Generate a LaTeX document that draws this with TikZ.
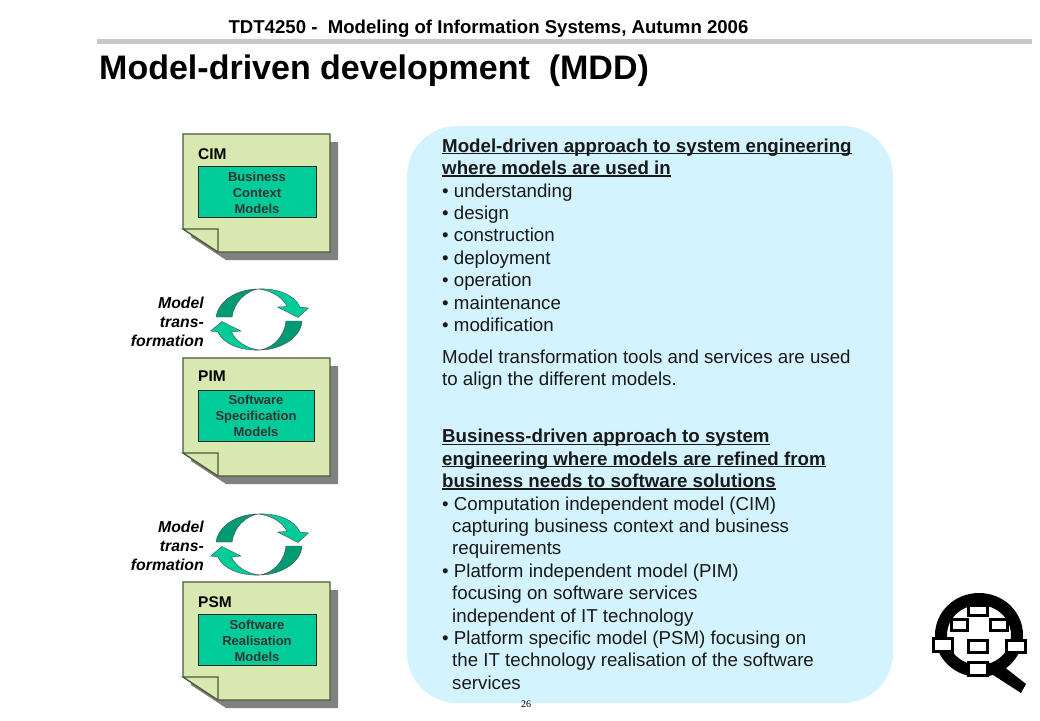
\documentclass[tikz,border=0pt]{standalone}
\usepackage{fontspec}
\setmainfont{Liberation Sans}
\newfontfamily\serifnum{Liberation Serif}
\definecolor{sheet}{HTML}{D9E8B0}
\definecolor{sheetline}{HTML}{4A5A3A}
\definecolor{shadowc}{HTML}{808080}
\definecolor{teal}{HTML}{00CC99}
\definecolor{tealdark}{HTML}{009A75}
\definecolor{panel}{HTML}{D3F3FF}
\definecolor{rulec}{HTML}{C8C8C8}
\tikzset{
  x=1pt,y=-1pt,
  sheetshape/.style={fill=sheet,draw=sheetline,line width=1.2pt,line join=miter},
  innerbox/.style={fill=teal,draw=black!85,line width=0.9pt},
  boxtext/.style={font=\fontsize{13}{16}\selectfont\bfseries,align=center,text=black!80,inner sep=0pt,anchor=center},
  tag/.style={font=\fontsize{15.5}{16}\selectfont\bfseries,inner sep=0pt,anchor=base west},
  sidelabel/.style={font=\fontsize{15.8}{18.8}\selectfont\bfseries\itshape,align=right,inner sep=0pt,anchor=north east},
  bodytext/.style={font=\fontsize{18.7}{22.4}\selectfont,align=left,inner sep=0pt,anchor=base west,text=black!90},
  logobox/.style={fill=white,draw=black,line width=3pt},
}
\newcommand{\uh}[1]{\setbox0\hbox{\textbf{#1}}\rlap{\raisebox{-2.2pt}{\rule{\wd0}{1.4pt}}}\box0}
\newcommand{\sheetat}[2]{% y offset, box right edge
  \begin{scope}[shift={(0,#1)}]
    \fill[shadowc] (191,142) -- (338,142) -- (338,260) -- (226,260) -- (191,237) -- cycle;
    \path[sheetshape] (183,134) -- (330,134) -- (330,252) -- (218,252) -- (183,229) -- cycle;
    \path[sheetshape] (183,229) -- (218,229) -- (218,252) -- cycle;
    \path[innerbox] (198,166) rectangle (#2,217);
  \end{scope}
}
\newcommand{\cycleat}[1]{%
  \begin{scope}[shift={(0,#1)}]
    % upper arrow
    \fill[tealdark,draw=black!70,line width=0.4pt] (216,317) .. controls (219,299) and (239,289) .. (258,289)
       .. controls (246,291) and (234,302) .. (232,317) -- cycle;
    \fill[teal,draw=black!70,line width=0.4pt] (258,289) .. controls (276,288) and (294,294) .. (300,307)
       -- (308.5,308) -- (298,317.5) -- (277.5,307) -- (287,306.5)
       .. controls (283,297) and (270,290) .. (258,289) -- cycle;
    % lower arrow
    \fill[tealdark,draw=black!70,line width=0.4pt] (302,321) .. controls (301,338) and (280,350) .. (260,350)
       .. controls (272,348) and (284,338) .. (286,321) -- cycle;
    \fill[teal,draw=black!70,line width=0.4pt] (260,350) .. controls (241,351) and (223,344) .. (218,332)
       -- (210.5,331) -- (222,321.5) -- (241,331) -- (231.5,332)
       .. controls (236,342) and (248,349) .. (260,350) -- cycle;
  \end{scope}
}
\begin{document}
\begin{tikzpicture}
\useasboundingbox (0,0) rectangle (1040,720);
\fill[white] (0,0) rectangle (1040,720);
% header
\node[font=\fontsize{18.6}{20}\selectfont\bfseries,inner sep=0pt,anchor=base] (header) at (488.5,33) {TDT4250 -\ \ Modeling of Information Systems, Autumn 2006};
\fill[rulec] (97,39) rectangle (1032,44);
\node[font=\fontsize{34}{38}\selectfont\bfseries,inner sep=0pt,anchor=base west] (title) at (99,79) {Model-driven development\ \ (MDD)};
% panel
\fill[panel,rounded corners=50pt] (407,126) rectangle (893,703);
% sheets
\sheetat{0}{316.5}
\sheetat{224}{314.5}
\sheetat{448}{316.5}
\node[tag] (cimtag) at (198,159) {CIM};
\node[tag] (pimtag) at (198,381.5) {PIM};
\node[tag] (psmtag) at (198,607) {PSM};
\node[boxtext] (cimbox) at (257,192.8) {Business\\Context\\Models};
\node[boxtext] (pimbox) at (256,416) {Software\\Specification\\Models};
\node[boxtext] (psmbox) at (257,640.8) {Software\\Realisation\\Models};
% cycles
\cycleat{0}
\cycleat{225}
\node[sidelabel] (t1) at (204,297) {Model\\trans-\\formation};
\node[sidelabel] (t2) at (204,521) {Model\\trans-\\formation};
% body (coordinates give the baseline of each block's last line)
\node[bodytext] (b1) at (442,331.4) {\uh{Model-driven approach to system engineering}\\
\uh{where models are used in}\\
• understanding\\
• design\\
• construction\\
• deployment\\
• operation\\
• maintenance\\
• modification};
\node[bodytext] (b2) at (442,385.4) {Model transformation tools and services are used\\
to align the different models.};
\node[bodytext] (b3) at (442,689.2) {\uh{Business-driven approach to system}\\
\uh{engineering where models are refined from}\\
\uh{business needs to software solutions}\\
• Computation independent model (CIM)\\
\hspace*{10pt}capturing business context and business\\
\hspace*{10pt}requirements\\
• Platform independent model (PIM)\\
\hspace*{10pt}focusing on software services\\
\hspace*{10pt}independent of IT technology\\
• Platform specific model (PSM) focusing on\\
\hspace*{10pt}the IT technology realisation of the software\\
\hspace*{10pt}services};
\node[font=\fontsize{10}{12}\selectfont\serifnum,inner sep=0pt,anchor=base] (pageno) at (526,707) {26};
% logo
\draw[black,line width=12pt] (979,635) ellipse (38 and 36);
\fill[black] (986,662) -- (1003,666) -- (1026,684) -- (1021,693) -- (990,673) -- cycle;
\path[logobox] (968.8,605.5) rectangle (987.8,615.2);
\path[logobox] (951.5,619.5) rectangle (967.8,630.2);
\path[logobox] (990.2,619.2) rectangle (1007.8,630.2);
\path[logobox] (933.5,638.8) rectangle (952.5,651.2);
\path[logobox] (968.8,640.5) rectangle (987.8,652.5);
\path[logobox] (1006.5,640.5) rectangle (1025.8,652.5);
\path[logobox] (968.8,662.5) rectangle (987.8,675.2);
\end{tikzpicture}
\end{document}
